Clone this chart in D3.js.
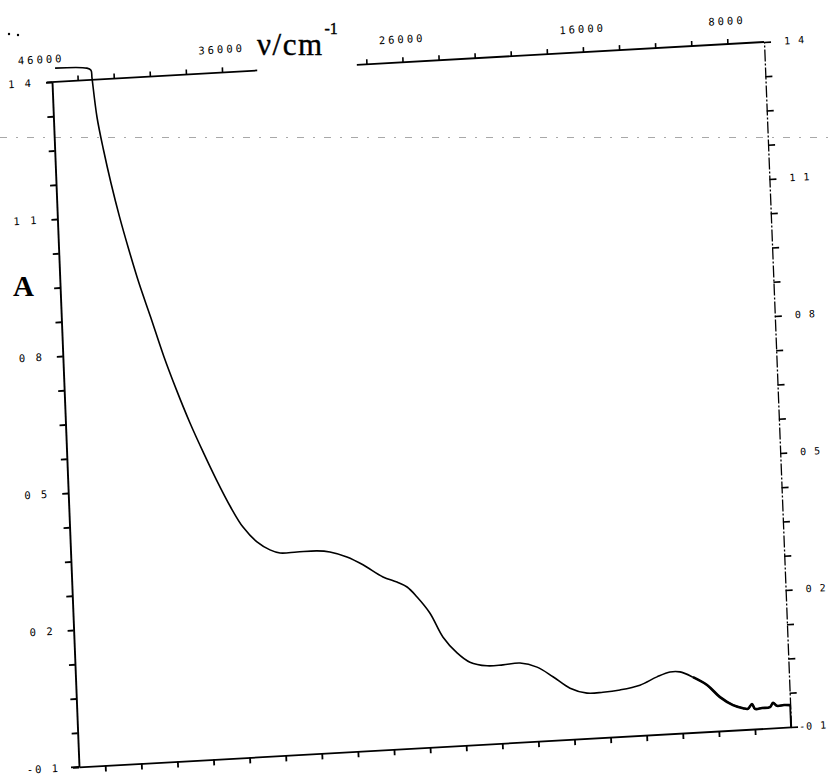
<!DOCTYPE html>
<html>
<head>
<meta charset="utf-8">
<script src="https://cdn.jsdelivr.net/npm/d3@7"></script>
<style>
  html, body { margin: 0; padding: 0; background: #fff; }
  svg { display: block; }
</style>
</head>
<body>
<svg id="chart" width="828" height="779"></svg>
<script>
// Absorption spectrum, absorbance A against wavenumber (cm^-1)
const wavenumbers = [
  45250, 43490, 43270, 43230, 43040, 42750, 42410, 42010, 41560, 41080,
  40515, 39860, 39240, 38564, 37880, 37220, 36510, 35860, 35120, 34420,
  33870, 32930, 31820, 31110, 30180, 29310, 28230, 27470, 26920, 26390,
  25710, 25040, 24300, 23610, 22670, 21790, 20840, 19910, 19050, 18130,
  17200, 16320, 15370, 14260, 13300, 12570, 12020, 11310, 10550, 9860,
  9160, 8610, 8340, 8110, 7950, 7560, 7120, 6940, 6730, 6340, 6000
];
const absorbance = [
  1.430, 1.426, 1.421, 1.404, 1.318, 1.245, 1.172, 1.097, 1.023, 0.950,
  0.875, 0.786, 0.712, 0.638, 0.571, 0.510, 0.450, 0.404, 0.370, 0.351,
  0.343, 0.343, 0.343, 0.339, 0.326, 0.307, 0.278, 0.265, 0.253, 0.230,
  0.193, 0.139, 0.103, 0.081, 0.071, 0.071, 0.073, 0.062, 0.039, 0.012,
  -0.001, -0.001, 0.002, 0.010, 0.026, 0.035, 0.034, 0.021, 0.002, -0.026,
  -0.045, -0.053, -0.055, -0.045, -0.056, -0.055, -0.054, -0.045, -0.052, -0.051, -0.052
];

// Axis ticks and labels
const xTickValues = [44000, 42000, 40000, 38000, 36000, 34000, 32000, 30000, 28000, 26000,
                     24000, 22000, 20000, 18000, 16000, 14000, 12000, 10000, 8000];
const topLabelValues = [46000, 36000, 26000, 16000, 8000];
const topLabelTexts = ["46000", "36000", "26000", "16000", "8000"];
const yLabelValues = [1.4, 1.1, 0.8, 0.5, 0.2, -0.1];
const yLabelTexts = ["1 4", "1 1", "0 8", "0 5", "0 2", "-0 1"];

const W = 712, H = 685;
const x = d3.scaleLinear().domain([45450, 6000]).range([0, W]);
const y = d3.scaleLinear().domain([-0.1, 1.4]).range([H, 0]);
const yTickValues = d3.range(21).map(k => Math.round((-0.1 + 0.075 * k) * 1000) / 1000);

const svg = d3.select("#chart");

// faint dashed rule running across the sheet
svg.append("line")
  .attr("x1", 0).attr("x2", 828).attr("y1", 137.5).attr("y2", 137.5)
  .attr("stroke", "#a8a8a8").attr("stroke-width", 1)
  .attr("stroke-dasharray", "7,9,2,9");

svg.selectAll("circle.mark").data([[9, 34], [18, 35]]).enter().append("circle")
  .attr("class", "mark").attr("cx", d => d[0]).attr("cy", d => d[1]).attr("r", 1.2).attr("fill", "#000");

// plotting frame, slightly tilted on the sheet
const g = svg.append("g").attr("transform", "matrix(1,-0.05618,0.03942,1,52,82)");

const tickFont = "'DejaVu Sans Mono', 'Liberation Mono', monospace";

// left axis
const leftAxis = g.append("g").call(
  d3.axisLeft(y).tickValues(yTickValues).tickSize(6).tickSizeOuter(0).tickFormat(""));
leftAxis.selectAll("path, line").attr("stroke", "#000").attr("stroke-width", 1.9);

// bottom axis
const bottomAxis = g.append("g").attr("transform", `translate(0,${H})`).call(
  d3.axisBottom(x).tickValues(xTickValues).tickSize(6).tickSizeOuter(0).tickFormat(""));
bottomAxis.selectAll("path, line").attr("stroke", "#000").attr("stroke-width", 1.8);
g.append("line").attr("x1", -8).attr("x2", 0).attr("y1", H).attr("y2", H)
  .attr("stroke", "#000").attr("stroke-width", 1.8);

// right axis (broken pen line)
const rightAxis = g.append("g").attr("transform", `translate(${W},0)`).call(
  d3.axisRight(y).tickValues(yTickValues).tickSize(7).tickSizeOuter(0).tickFormat(""));
rightAxis.selectAll("line").attr("stroke", "#000").attr("stroke-width", 1.6);
rightAxis.select("path.domain").attr("stroke", "#000").attr("stroke-width", 1.3)
  .attr("stroke-dasharray", "12,2,2,2");

// top axis with a gap for the unit label
const topSegments = [[45750, 34080], [28560, 6000]];
g.selectAll("line.topaxis").data(topSegments).enter().append("line")
  .attr("class", "topaxis")
  .attr("x1", d => x(d[0])).attr("x2", d => x(d[1]))
  .attr("y1", 0).attr("y2", 0)
  .attr("stroke", "#000").attr("stroke-width", 1.8);
g.selectAll("line.toptick")
  .data(xTickValues.filter(v => x(v) < x(34080) || x(v) > x(28560)))
  .enter().append("line").attr("class", "toptick")
  .attr("x1", d => x(d)).attr("x2", d => x(d)).attr("y1", 0).attr("y2", -5)
  .attr("stroke", "#000").attr("stroke-width", 1.6);

// tick labels
g.selectAll("text.toplabel").data(topLabelValues).enter().append("text")
  .attr("class", "toplabel")
  .attr("x", d => x(d)).attr("y", -23).attr("dy", "0.35em")
  .attr("text-anchor", "middle")
  .attr("font-family", tickFont).attr("font-size", 10.5).attr("letter-spacing", 3)
  .text((d, i) => topLabelTexts[i]);

g.selectAll("text.leftlabel").data(yLabelValues).enter().append("text")
  .attr("class", "leftlabel")
  .attr("x", -19).attr("y", d => y(d)).attr("dy", "0.35em")
  .attr("text-anchor", "end")
  .attr("font-family", tickFont).attr("font-size", 10.5).attr("letter-spacing", 2)
  .text((d, i) => yLabelTexts[i]);

g.selectAll("text.rightlabel").data(yLabelValues).enter().append("text")
  .attr("class", "rightlabel")
  .attr("x", d => W + (d < 0 ? 8 : 20)).attr("y", d => y(d)).attr("dy", "0.35em")
  .attr("text-anchor", "start")
  .attr("font-family", tickFont).attr("font-size", 10).attr("letter-spacing", 1)
  .text((d, i) => yLabelTexts[i]);

// spectrum trace
const pts = wavenumbers.map((w, i) => [w, absorbance[i]]);
const line = d3.line().x(d => x(d[0])).y(d => y(d[1])).curve(d3.curveCatmullRom.alpha(0.5));
g.append("path").datum(pts).attr("d", line)
  .attr("fill", "none").attr("stroke", "#000").attr("stroke-width", 1.6)
  .attr("stroke-linejoin", "round");
// noisy tail drawn heavier by the pen
g.append("path").datum(pts.filter(d => d[0] <= 11400)).attr("d", line)
  .attr("fill", "none").attr("stroke", "#000").attr("stroke-width", 2.6)
  .attr("stroke-linejoin", "round");
// pen drop at the end of the scan
const last = pts[pts.length - 1];
g.append("line").attr("x1", x(last[0])).attr("x2", x(last[0]))
  .attr("y1", y(last[1])).attr("y2", y(-0.1))
  .attr("stroke", "#000").attr("stroke-width", 1.8);

// axis titles
svg.append("text").attr("x", 13).attr("y", 296)
  .attr("font-family", "'Liberation Serif', 'Times New Roman', serif")
  .attr("font-size", 29).attr("font-weight", "bold").text("A");

const unit = svg.append("text").attr("x", 257).attr("y", 55)
  .attr("font-family", "'Liberation Serif', 'Times New Roman', serif")
  .attr("font-size", 31).attr("stroke", "#000").attr("stroke-width", 0.4);
unit.append("tspan").attr("letter-spacing", 1.5).text("ν/cm");
unit.append("tspan").attr("font-size", 16).attr("dy", -21).attr("dx", 1).text("-1");
</script>
</body>
</html>
